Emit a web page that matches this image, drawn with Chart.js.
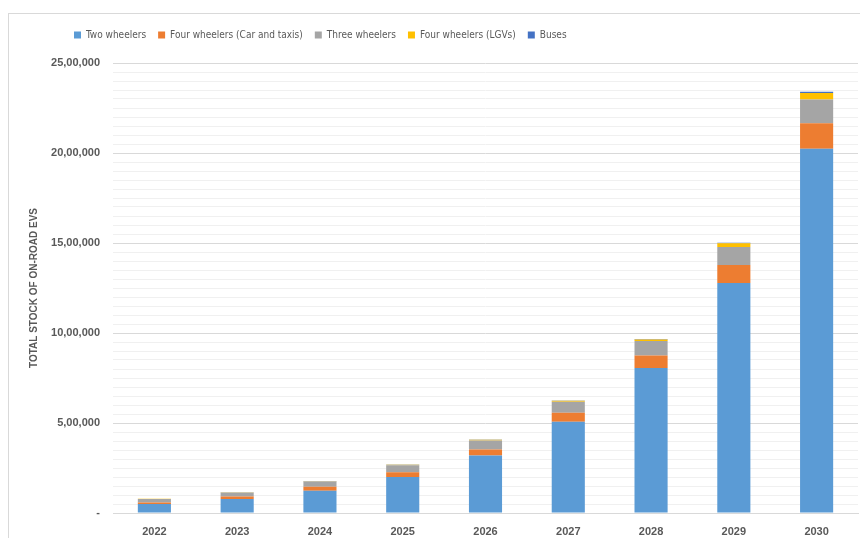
<!DOCTYPE html>
<html>
<head>
<meta charset="utf-8">
<script src="https://cdn.jsdelivr.net/npm/chart.js@4"></script>
<style>
  body { margin: 0; background: #fff; }
  #frame { position: absolute; left: 8px; top: 13px; width: 900px; height: 600px; border: 1px solid #d9d9d9; }
  #wrap { position: absolute; left: 0; top: 0; width: 860px; height: 538px; }
</style>
</head>
<body>
<div id="frame"></div>
<div id="wrap"><canvas id="evChart"></canvas></div>
<script>
// ── Data ───────────────────────────────────────────
const years        = ['2022', '2023', '2024', '2025', '2026', '2027', '2028', '2029', '2030'];
const twoWheelers  = [50000, 78000, 124000, 200000, 320000, 507000, 805000, 1278000, 2024000];
const fourCarTaxi  = [9000, 13000, 22000, 26000, 33000, 50000, 70000, 100000, 141000];
const threeWheel   = [19000, 22000, 29000, 39000, 50000, 61000, 80000, 100000, 132000];
const fourLGV      = [1000, 1500, 2000, 3000, 4000, 5000, 9000, 20000, 37000];
const buses        = [500, 700, 1000, 1200, 1500, 2000, 3000, 4000, 6000];
const yMax = 2500000;
const yStep = 50000;
const yLabelStep = 500000;

const textGray = '#595959';

const series = [
  { label: 'Two wheelers',                  data: twoWheelers, color: '#5b9bd5' },
  { label: 'Four wheelers (Car and taxis)', data: fourCarTaxi, color: '#ed7d31' },
  { label: 'Three wheelers',                data: threeWheel,  color: '#a5a5a5' },
  { label: 'Four wheelers (LGVs)',          data: fourLGV,     color: '#ffc000' },
  { label: 'Buses',                         data: buses,       color: '#4472c4' }
];

// legend sits left of centre with extra room under it, like the Excel original
const legendTweak = {
  id: 'legendTweak',
  beforeLayout(chart) {
    const lg = chart.legend;
    if (lg && !lg._patched) {
      const fit = lg.fit;
      lg.fit = function () { fit.apply(this, arguments); this.height += 13; };
      lg._patched = true;
    }
  },
  afterLayout(chart) {
    const lg = chart.legend;
    if (lg) lg.left = 62;
  }
};

new Chart(document.getElementById('evChart'), {
  type: 'bar',
  data: {
    labels: years,
    datasets: series.map(s => ({
      label: s.label,
      data: s.data,
      backgroundColor: s.color,
      borderWidth: 0,
      categoryPercentage: 0.8,
      barPercentage: 0.5
    }))
  },
  plugins: [legendTweak],
  options: {
    responsive: true,
    maintainAspectRatio: false,
    animation: false,
    layout: { padding: { left: 8, right: 2, top: 18, bottom: 0 } },
    plugins: {
      tooltip: { enabled: false },
      legend: {
        position: 'top',
        align: 'start',
        labels: {
          boxWidth: 7,
          boxHeight: 7,
          padding: 12,
          color: textGray,
          font: { family: "'Liberation Sans Narrow', 'DejaVu Sans Condensed', 'Liberation Sans', sans-serif", size: 10 }
        }
      }
    },
    scales: {
      x: {
        stacked: true,
        grid: { display: false },
        border: { color: '#d9d9d9' },
        ticks: {
          color: textGray,
          padding: 4,
          font: { family: "'Liberation Sans', sans-serif", size: 11, weight: 'bold' }
        },
        afterFit: s => { s.height = 25; }
      },
      y: {
        stacked: true,
        min: 0,
        max: yMax,
        border: { display: false },
        grid: {
          drawTicks: false,
          color: c => (c.tick && c.tick.value % yLabelStep === 0) ? '#d9d9d9' : '#f0f0f0'
        },
        ticks: {
          stepSize: yStep,
          maxTicksLimit: 100,
          autoSkip: false,
          padding: 13,
          color: textGray,
          font: { family: "'Liberation Sans', sans-serif", size: 11, weight: 'bold' },
          callback: v => v === 0 ? '-' : (v % yLabelStep === 0 ? v.toLocaleString('en-IN') : '')
        },
        title: {
          display: true,
          text: 'TOTAL STOCK OF ON-ROAD EVS',
          color: textGray,
          padding: { top: 20, bottom: 0 },
          font: { family: "'Liberation Sans', sans-serif", size: 10, weight: 'bold' }
        },
        afterFit: s => { s.width = 105; }
      }
    }
  }
});
</script>
</body>
</html>
